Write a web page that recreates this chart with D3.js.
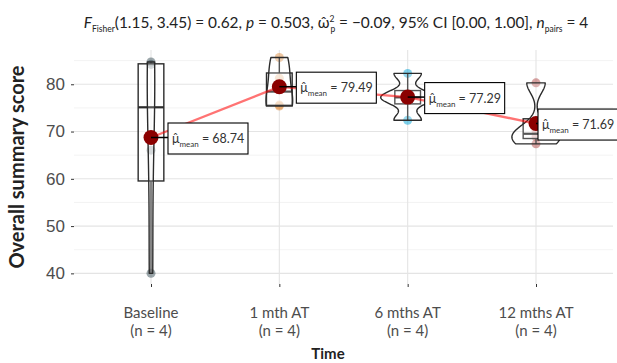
<!DOCTYPE html>
<html>
<head>
<meta charset="utf-8">
<script src="https://cdn.jsdelivr.net/npm/d3@7"></script>
<style>
  body { margin: 0; background: #fff; }
  svg { font-family: Lato, "Noto Sans", sans-serif; }
</style>
</head>
<body>
<svg id="chart" width="617" height="363"></svg>
<script>
// groups on the x axis
const categories = ["Baseline", "1 mth AT", "6 mths AT", "12 mths AT"];
const groupN = [4, 4, 4, 4];
// individual scores per time point
const scores = [
  [40.0, 66.06, 84.2, 84.7],
  [75.4, 75.6, 81.3, 85.66],
  [72.4, 77.0, 77.46, 82.3],
  [67.4, 68.9, 70.16, 80.3]
];
const means = [68.74, 79.49, 77.29, 71.69];
const pointColors = ["#374E55", "#DF8F44", "#00A1D5", "#B24745"];
const yTicks = [40, 50, 60, 70, 80];
const yMinor = [45, 55, 65, 75, 85];

const W = 617, H = 363;
const panel = { left: 74, right: 613, top: 50, bottom: 284 };
const svg = d3.select("#chart");

const x = d3.scalePoint().domain(categories).range([panel.left, panel.right]).padding(0.6);
const y = d3.scaleLinear().domain([37.75, 87.25]).range([panel.bottom, panel.top]);
const step = x.step();

// grid
const grid = svg.append("g");
grid.selectAll("line.minor").data(yMinor).join("line")
  .attr("x1", panel.left).attr("x2", panel.right)
  .attr("y1", d => y(d)).attr("y2", d => y(d))
  .attr("stroke", "#ebebeb").attr("stroke-width", 0.6);
grid.selectAll("line.major").data(yTicks).join("line")
  .attr("x1", panel.left).attr("x2", panel.right)
  .attr("y1", d => y(d)).attr("y2", d => y(d))
  .attr("stroke", "#e4e4e4").attr("stroke-width", 1.1);
grid.selectAll("line.vert").data(categories).join("line")
  .attr("x1", d => x(d)).attr("x2", d => x(d))
  .attr("y1", panel.top).attr("y2", panel.bottom)
  .attr("stroke", "#e4e4e4").attr("stroke-width", 1.1);

// axes
const yAxis = svg.append("g").attr("transform", `translate(${panel.left},0)`)
  .call(d3.axisLeft(y).tickValues(yTicks).tickSize(3).tickPadding(6));
yAxis.select(".domain").remove();
yAxis.selectAll(".tick line").attr("stroke", "#333");
yAxis.selectAll(".tick text").attr("font-size", 17).attr("fill", "#4d4d4d");

const xAxis = svg.append("g").attr("transform", `translate(0,${panel.bottom})`)
  .call(d3.axisBottom(x).tickSize(3).tickFormat(""));
xAxis.select(".domain").remove();
xAxis.selectAll(".tick line").attr("stroke", "#333");
const xl = svg.append("g").selectAll("text").data(categories).join("text")
  .attr("x", d => x(d)).attr("y", 318).attr("text-anchor", "middle")
  .attr("font-size", 15).attr("fill", "#4d4d4d");
xl.append("tspan").attr("x", d => x(d)).text(d => d);
xl.append("tspan").attr("x", d => x(d)).attr("dy", 18).text((d, i) => `(n = ${groupN[i]})`);

svg.append("text").attr("x", 328).attr("y", 359)
  .attr("text-anchor", "middle").attr("font-size", 15).attr("font-weight", "bold").attr("fill", "#222").text("Time");
svg.append("text").attr("transform", `translate(24,${(panel.top + panel.bottom) / 2}) rotate(-90)`)
  .attr("text-anchor", "middle").attr("font-size", 20).attr("font-weight", "bold").attr("fill", "#222").text("Overall summary score");

// stats helpers
function quartiles(v) {
  const s = v.slice().sort(d3.ascending);
  return { q1: d3.quantile(s, 0.25), med: d3.quantile(s, 0.5), q3: d3.quantile(s, 0.75), min: s[0], max: s[s.length - 1] };
}
function bwNrd0(v) {
  const s = v.slice().sort(d3.ascending);
  const sd = d3.deviation(s), iqr = d3.quantile(s, 0.75) - d3.quantile(s, 0.25);
  let lo = Math.min(sd, iqr / 1.34);
  if (!lo) lo = sd || Math.abs(s[0]) || 1;
  return 0.9 * lo * Math.pow(s.length, -0.2);
}
function kde(v) {
  const bw = bwNrd0(v), lo = d3.min(v), hi = d3.max(v);
  return d3.range(101).map(i => {
    const t = lo + (hi - lo) * i / 100;
    const dens = d3.mean(v, d => Math.exp(-0.5 * ((t - d) / bw) ** 2) / (bw * Math.sqrt(2 * Math.PI)));
    return [t, dens];
  });
}

svg.append("clipPath").attr("id", "pclip").append("rect")
  .attr("x", panel.left).attr("y", panel.top)
  .attr("width", panel.right - panel.left).attr("height", panel.bottom - panel.top);
const plot = svg.append("g").attr("clip-path", "url(#pclip)");

// raw points
scores.forEach((v, i) => {
  plot.append("g").selectAll("circle").data(v).join("circle")
    .attr("cx", x(categories[i])).attr("cy", d => y(d)).attr("r", 4.5)
    .attr("fill", pointColors[i]).attr("opacity", 0.5);
});

// boxplots
const boxW = 0.2 * step;
scores.forEach((v, i) => {
  const q = quartiles(v), cx = x(categories[i]), iqr = q.q3 - q.q1;
  const lo = d3.min(v.filter(d => d >= q.q1 - 1.5 * iqr)), hi = d3.max(v.filter(d => d <= q.q3 + 1.5 * iqr));
  const g = plot.append("g").attr("stroke", "#2b2b2b").attr("stroke-width", 1.4);
  g.append("line").attr("x1", cx).attr("x2", cx).attr("y1", y(q.q3)).attr("y2", y(hi));
  g.append("line").attr("x1", cx).attr("x2", cx).attr("y1", y(q.q1)).attr("y2", y(lo));
  g.append("rect").attr("x", cx - boxW / 2).attr("width", boxW)
    .attr("y", y(q.q3)).attr("height", y(q.q1) - y(q.q3))
    .attr("fill", "rgba(255,255,255,0.5)");
  g.append("line").attr("x1", cx - boxW / 2).attr("x2", cx + boxW / 2)
    .attr("y1", y(q.med)).attr("y2", y(q.med)).attr("stroke-width", 2.2);
});

// violins (area scaled, trimmed)
const dens = scores.map(kde);
const maxDens = d3.max(dens, d => d3.max(d, e => e[1]));
const violinW = 0.42 * step;
const vArea = d3.area().y(d => y(d[0]));
dens.forEach((dd, i) => {
  const cx = x(categories[i]);
  plot.append("path").datum(dd)
    .attr("d", vArea.x0(d => cx - d[1] / maxDens * violinW / 2).x1(d => cx + d[1] / maxDens * violinW / 2))
    .attr("fill", "rgba(255,255,255,0.2)").attr("stroke", "#2b2b2b").attr("stroke-width", 1.4)
    .attr("stroke-linejoin", "round");
});

// mean path and points
plot.append("path").datum(means)
  .attr("d", d3.line().x((d, i) => x(categories[i])).y(d => y(d)))
  .attr("fill", "none").attr("stroke", "#ff0000").attr("stroke-opacity", 0.55).attr("stroke-width", 2.4);
plot.selectAll("circle.mean").data(means).join("circle")
  .attr("cx", (d, i) => x(categories[i])).attr("cy", d => y(d)).attr("r", 7.5)
  .attr("fill", "#8b0000");

// mean labels
const lblW = 80, lblH = 31;
means.forEach((m, i) => {
  const cx = x(categories[i]), cy = y(m);
  const bx = Math.min(cx + 17, W - lblW + 1), by = cy - lblH / 2 + 1;
  svg.append("line").attr("x1", cx).attr("x2", bx).attr("y1", cy).attr("y2", cy)
    .attr("stroke", "#000").attr("stroke-width", 1.5);
  svg.append("rect").attr("x", bx).attr("y", by).attr("width", lblW).attr("height", lblH)
    .attr("fill", "#fff").attr("stroke", "#000").attr("stroke-width", 1.1);
  const t = svg.append("text").attr("x", bx + 4).attr("y", by + 20).attr("font-size", 12.5).attr("fill", "#333");
  t.append("tspan").text("\u03bc\u0302");
  t.append("tspan").attr("font-size", 8).attr("dy", 4).text("mean");
  t.append("tspan").attr("dy", -4).text(" = " + m.toFixed(2));
});

// subtitle with statistics
const sub = svg.append("text").attr("x", 336).attr("y", 28).attr("text-anchor", "middle")
  .attr("font-size", 15.4).attr("fill", "#222");
sub.append("tspan").attr("font-style", "italic").text("F");
sub.append("tspan").attr("font-size", 8.5).attr("dy", 4).text("Fisher");
sub.append("tspan").attr("dy", -4).text("(1.15, 3.45) = 0.62, ");
sub.append("tspan").attr("font-style", "italic").text("p");
sub.append("tspan").text(" = 0.503, ");
sub.append("tspan").text("\u03c9\u0302");
sub.append("tspan").attr("font-size", 8.5).attr("dy", -6).text("2");
sub.append("tspan").attr("font-size", 8.5).attr("dy", 10).attr("dx", -4).text("p");
sub.append("tspan").attr("dy", -4).text(" = \u22120.09, 95% CI [0.00, 1.00], ");
sub.append("tspan").attr("font-style", "italic").text("n");
sub.append("tspan").attr("font-size", 8.5).attr("dy", 4).text("pairs");
sub.append("tspan").attr("dy", -4).text(" = 4");
</script>
</body>
</html>
